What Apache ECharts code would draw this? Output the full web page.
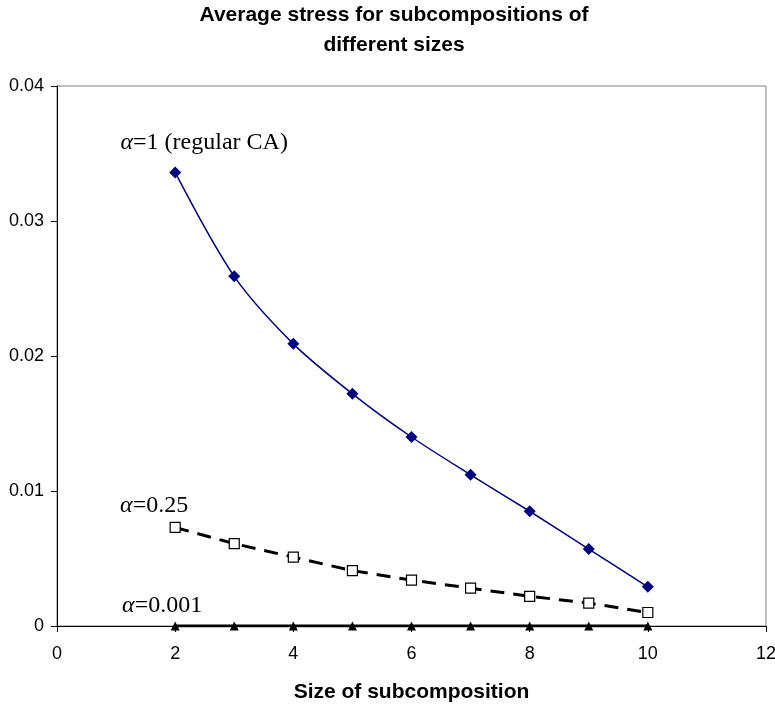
<!DOCTYPE html>
<html>
<head>
<meta charset="utf-8">
<script src="https://cdn.jsdelivr.net/npm/echarts@6/dist/echarts.min.js"></script>
<style>
  html, body { margin: 0; padding: 0; background: #fff; }
  #StressChart { width: 775px; height: 704px; }
</style>
</head>
<body>
<div id="StressChart"></div>
<script>
// subcomposition sizes
var sizes = [2, 3, 4, 5, 6, 7, 8, 9, 10];
// average stress, alpha = 1 (regular CA)
var stressAlpha1 = [0.0336, 0.0259, 0.0209, 0.0172, 0.0140, 0.0112, 0.0085, 0.0057, 0.0029];
// alpha = 0.25
var stressAlpha025 = [0.0073, 0.0061, 0.0051, 0.0041, 0.0034, 0.0028, 0.0022, 0.0017, 0.0010];
// alpha = 0.001
var stressAlpha0001 = [0, 0, 0, 0, 0, 0, 0, 0, 0];
var seriesNames = ['=1 (regular CA)', '=0.25', '=0.001'];

function pairs(vals, name, offset) {
    return vals.map(function (v, i) {
        var item = { value: [sizes[i], v] };
        if (i === 0) {
            item.label = {
                show: true,
                position: 'top',
                offset: offset,
                formatter: '{a|α}{b|' + name + '}',
                rich: {
                    a: { fontFamily: 'Liberation Serif', fontStyle: 'italic', fontSize: 24, color: '#000' },
                    b: { fontFamily: 'Liberation Serif', fontSize: 24, color: '#000' }
                }
            };
        }
        return item;
    });
}

LoadStress();

function LoadStress() {
    var myChart = echarts.init(document.getElementById('StressChart'));
    var option = {
        backgroundColor: '#fff',
        animation: false,
        title: {
            text: 'Average stress for subcompositions of\ndifferent sizes',
            left: 394,
            top: 0,
            padding: 0,
            textAlign: 'center',
            textStyle: {
                fontFamily: 'Liberation Sans',
                fontWeight: 'bold',
                fontSize: 21,
                lineHeight: 30,
                color: '#000'
            }
        },
        grid: {
            left: 57,
            top: 86,
            width: 709,
            height: 540,
            outerBoundsMode: 'none',
            containLabel: false,
            show: true,
            borderColor: '#808080',
            borderWidth: 1,
            backgroundColor: '#fff'
        },
        xAxis: {
            type: 'value',
            min: 0,
            max: 12,
            interval: 2,
            name: 'Size of subcomposition',
            nameLocation: 'middle',
            nameGap: 56,
            nameTextStyle: {
                fontFamily: 'Liberation Sans',
                fontWeight: 'bold',
                fontSize: 21,
                color: '#000'
            },
            axisLine: { show: true, lineStyle: { color: '#000', width: 1 } },
            axisTick: { show: true, inside: false, length: 6, lineStyle: { color: '#000' } },
            axisLabel: {
                fontFamily: 'Liberation Sans',
                fontSize: 18,
                color: '#000',
                margin: 19
            },
            splitLine: { show: false }
        },
        yAxis: {
            type: 'value',
            min: 0,
            max: 0.04,
            interval: 0.01,
            axisLine: { show: true, onZero: false, lineStyle: { color: '#000', width: 1 } },
            axisTick: { show: true, inside: false, length: 6, lineStyle: { color: '#000' } },
            axisLabel: {
                fontFamily: 'Liberation Sans',
                fontSize: 18,
                color: '#000',
                margin: 13,
                formatter: function (v) { return v === 0 ? '0' : v.toFixed(2); }
            },
            splitLine: { show: false }
        },
        series: [
            {
                name: seriesNames[0],
                type: 'line',
                smooth: 0.3,
                data: pairs(stressAlpha1, seriesNames[0], [29, -7]),
                symbol: 'diamond',
                symbolSize: 12,
                itemStyle: { color: '#000080' },
                lineStyle: { color: '#000080', width: 1.5 },
                z: 3
            },
            {
                name: seriesNames[1],
                type: 'line',
                data: pairs(stressAlpha025, seriesNames[1], [-21, 1]),
                symbol: 'rect',
                symbolSize: 10,
                itemStyle: { color: '#fff', borderColor: '#000', borderWidth: 1.2 },
                lineStyle: { color: '#000', width: 3, type: [14, 9] },
                z: 2
            },
            {
                name: seriesNames[2],
                type: 'line',
                data: pairs(stressAlpha0001, seriesNames[2], [-13, 1]),
                symbol: 'triangle',
                symbolSize: 9,
                itemStyle: { color: '#000' },
                lineStyle: { color: '#000', width: 3 },
                z: 4
            }
        ]
    };
    myChart.setOption(option);
}
</script>
</body>
</html>
